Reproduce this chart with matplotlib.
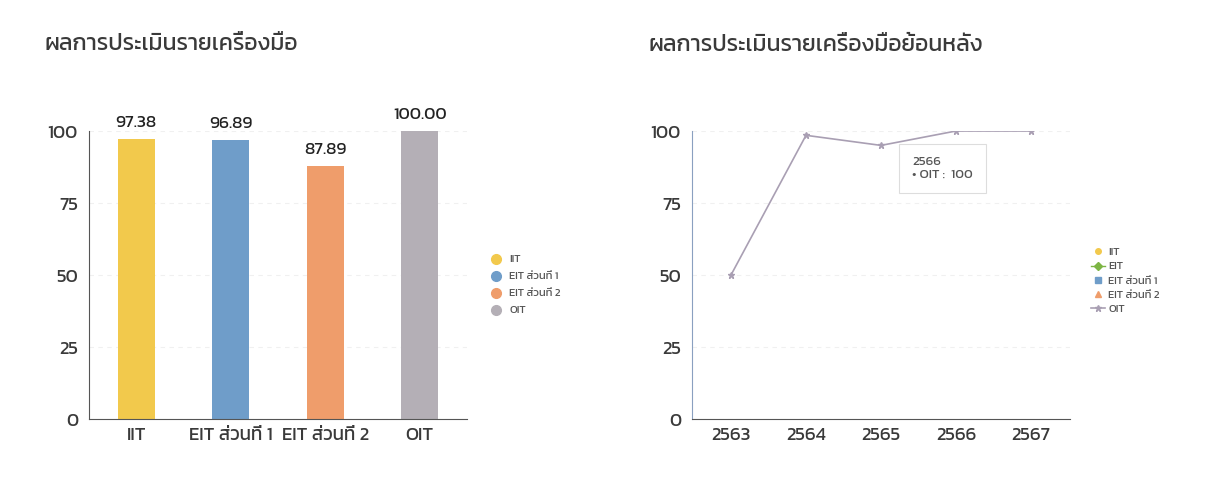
import matplotlib
matplotlib.use('Agg')
import matplotlib.pyplot as plt
from matplotlib.lines import Line2D

plt.rcParams['font.family'] = ['Kanit', 'DejaVu Sans']
plt.rcParams['font.weight'] = 'normal'

# data
tools = ['IIT', 'EIT ส่วนที่ 1', 'EIT ส่วนที่ 2', 'OIT']
scores = [97.38, 96.89, 87.89, 100.00]
bar_colors = ['#F2C94C', '#6F9DC9', '#EF9D6B', '#B4AFB6']

years = ['2563', '2564', '2565', '2566', '2567']
oit_trend = [50, 98.5, 95, 100, 100]
series_names = ['IIT', 'EIT', 'EIT ส่วนที่ 1', 'EIT ส่วนที่ 2', 'OIT']
series_colors = ['#F2C94C', '#7DB544', '#6F9DC9', '#EF9D6B', '#A99FB3']
series_markers = ['o', 'D', 's', '^', '*']

fig = plt.figure(figsize=(12.08, 4.95), dpi=100)
txt = '#3a3a3a'

# ---- left: bar chart
ax1 = fig.add_axes([89 / 1208, 1 - 419 / 495, 378 / 1208, 288 / 495])
x = range(len(tools))
ax1.bar(x, scores, width=0.39, color=bar_colors)
for i, v in zip(x, scores):
    ax1.text(i, v + 3, '%.2f' % v, ha='center', va='bottom', fontsize=12.5, color='#222222')
ax1.set_xlim(-0.5, 3.5)
ax1.set_ylim(0, 100)
ax1.set_yticks([0, 25, 50, 75, 100])
ax1.set_xticks(list(x))
ax1.set_xticklabels(tools)
ax1.tick_params(length=0, labelsize=13.5, colors=txt, pad=6)
ax1.tick_params(axis='y', pad=8)
for s in ['top', 'right']:
    ax1.spines[s].set_visible(False)
for s in ['left', 'bottom']:
    ax1.spines[s].set_color('#555555')
ax1.grid(axis='y', color='#f0f0f0', linestyle=(0, (4, 4)), linewidth=0.8)
ax1.set_axisbelow(True)
handles = [Line2D([], [], marker='o', linestyle='', color=c, markersize=7) for c in bar_colors]
ax1.legend(handles, tools, loc='center left', bbox_to_anchor=(1.02, 0.465), frameon=False,
           fontsize=8, handletextpad=0.2, labelspacing=0.65, labelcolor='#555555')
fig.text(45 / 1208, 1 - 45 / 495, 'ผลการประเมินรายเครื่องมือ', fontsize=16.5, color=txt, va='center')

# ---- right: trend line
ax2 = fig.add_axes([692 / 1208, 1 - 419 / 495, 378 / 1208, 288 / 495])
xi = list(range(len(years)))
for name, c, m in zip(series_names[:-1], series_colors[:-1], series_markers[:-1]):
    ax2.plot([], [], color=c, marker=m, markersize=4, linewidth=1 if m == 'D' else 0, label=name)
ax2.plot(xi, oit_trend, color=series_colors[-1], marker='*', markersize=5, linewidth=1.2, label='OIT')
ax2.set_xlim(-0.52, 4.52)
ax2.set_ylim(0, 100)
ax2.set_yticks([0, 25, 50, 75, 100])
ax2.set_xticks(xi)
ax2.set_xticklabels(years)
ax2.tick_params(length=0, labelsize=13.5, colors=txt, pad=6)
ax2.tick_params(axis='y', pad=8)
for s in ['top', 'right']:
    ax2.spines[s].set_visible(False)
ax2.spines['left'].set_color('#8aa0c0')
ax2.spines['bottom'].set_color('#555555')
ax2.grid(axis='y', color='#f0f0f0', linestyle=(0, (4, 4)), linewidth=0.8)
ax2.set_axisbelow(True)
ax2.legend(loc='center left', bbox_to_anchor=(1.03, 0.48), frameon=False, fontsize=8,
           handlelength=1.2, handletextpad=0.3, labelspacing=0.4, labelcolor='#555555')
# tooltip on 2566
ax2.annotate('2566\n• OIT :  100', xy=(3, oit_trend[3]), xytext=(2.42, 87), fontsize=9.5,
             color='#555555', va='center', ha='left', linespacing=1.3,
             bbox=dict(boxstyle='square,pad=1.0', fc='white', ec='#dddddd', lw=0.8))
fig.text(648 / 1208, 1 - 45 / 495, 'ผลการประเมินรายเครื่องมือย้อนหลัง', fontsize=16.5, color=txt, va='center')

fig.savefig('out.png', dpi=100, facecolor='white')
